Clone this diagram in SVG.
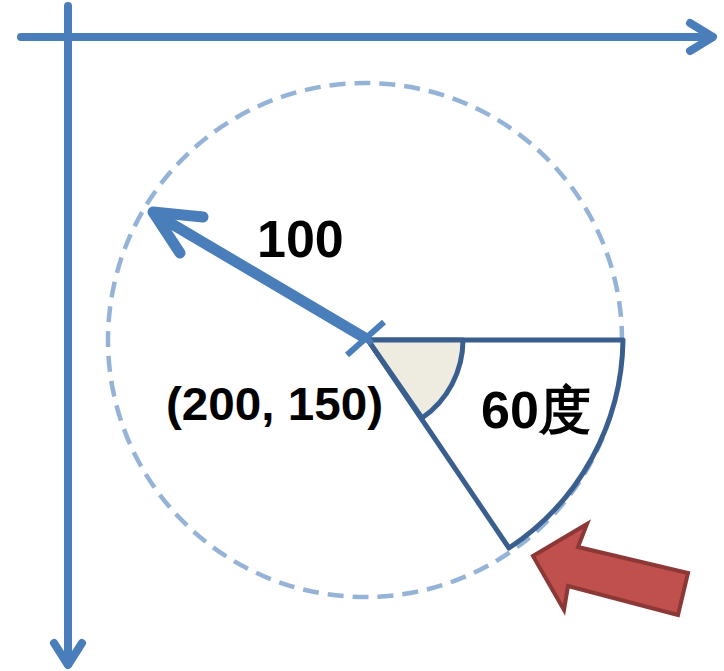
<svg xmlns="http://www.w3.org/2000/svg" width="724" height="671" viewBox="0 0 724 671">
<style>
.axis{stroke:#4A7EBB;stroke-width:8;fill:none;stroke-linecap:round;stroke-linejoin:round}
.lbl{font-family:"Liberation Sans",Arial,sans-serif;font-weight:bold;fill:#000}
.sec{stroke:#3A5F8F;stroke-width:5;stroke-linejoin:round}
</style>
<rect width="724" height="671" fill="#fff"/>
<g id="connectors">
<line class="axis" x1="21" y1="37" x2="712" y2="37" stroke-linecap="butt"/>
<polyline class="axis" points="690,23 713,37 690,51"/>
<line class="axis" x1="68" y1="6" x2="68" y2="664" stroke-linecap="butt"/>
<polyline class="axis" points="54,643 68,665 82,643"/>
</g>
<g id="circle">
<circle cx="365" cy="340" r="257" fill="none" stroke="#95B3D7" stroke-width="4.5" stroke-dasharray="16 9"/>
</g>
<g id="sector">
<path class="sec" d="M368,340 L623,340 A253,253 0 0 1 509,548 Z" fill="#fff"/>
<path class="sec" d="M368,340 L463,340 A95,95 0 0 1 422,418 Z" fill="#EEECE1"/>
</g>
<g id="radius">
<line x1="155" y1="214" x2="365" y2="338" stroke="#4A7EBB" stroke-width="11" stroke-linecap="butt"/>
<polyline points="203,217 153,212 180,253" fill="none" stroke="#4A7EBB" stroke-width="11" stroke-linecap="round" stroke-linejoin="round"/>
<line x1="347" y1="355" x2="384" y2="322" stroke="#4A7EBB" stroke-width="6"/>
<line x1="350" y1="328" x2="372" y2="343" stroke="#4A7EBB" stroke-width="6"/>
</g>
<g id="red-arrow">
<polygon points="533,556 587,524 578,547 688,573 678,615 568,586 564,610" fill="#C0504D" stroke="#8C3836" stroke-width="4" stroke-linejoin="miter"/>
</g>
<g id="labels">
<text class="lbl" x="257" y="257" font-size="52">100</text>
<text class="lbl" x="166" y="420" font-size="46" textLength="217" lengthAdjust="spacingAndGlyphs">(200, 150)</text>
<text class="lbl" x="481" y="428" font-size="52" font-family="'Liberation Sans','Noto Sans CJK JP',sans-serif">60度</text>
</g>
</svg>
